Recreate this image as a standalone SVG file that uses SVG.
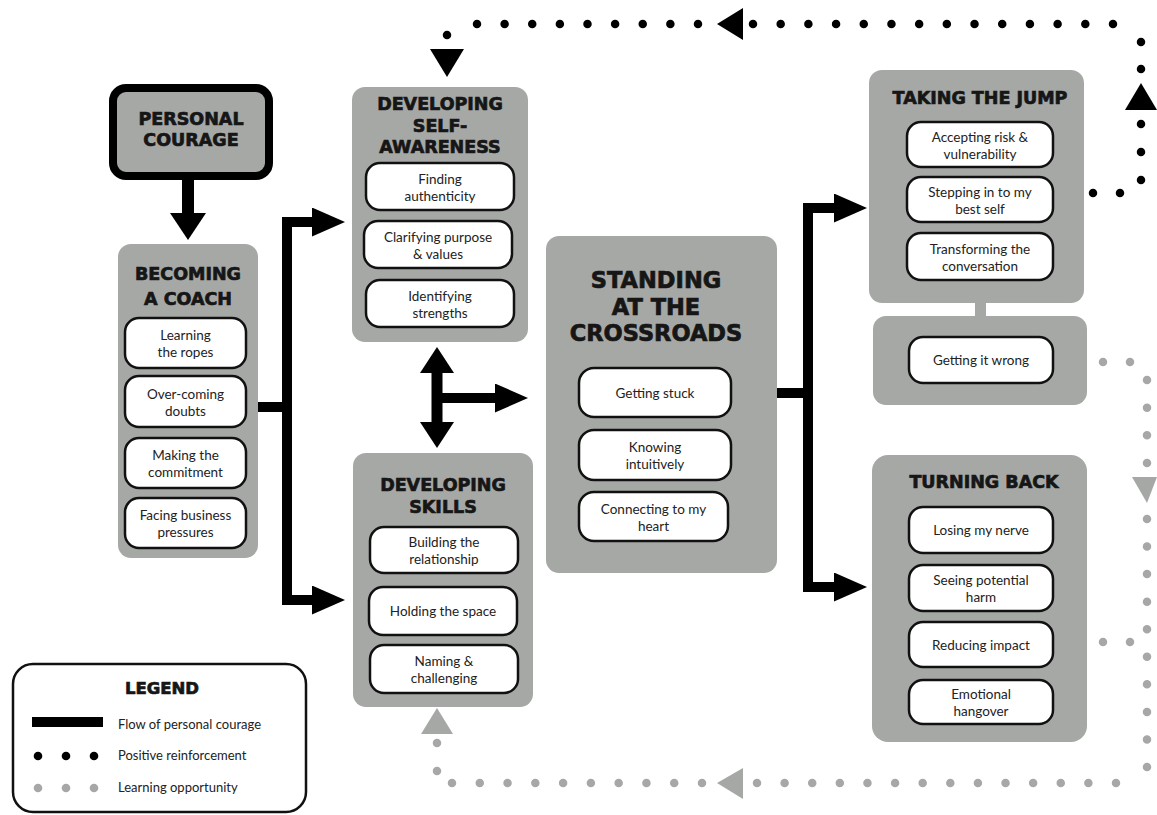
<svg xmlns="http://www.w3.org/2000/svg" width="1157" height="815" viewBox="0 0 1157 815">
<defs>
<style>
.box{fill:#a6a8a6}
.inner{fill:#fff;stroke:#111;stroke-width:2.5}
.title{font-family:"DejaVu Sans",sans-serif;font-weight:bold;text-anchor:middle;fill:#161616;stroke:#161616;stroke-width:0.7}
.lbl{font-family:Lato,"Open Sans",sans-serif;font-size:13.5px;text-anchor:middle;fill:#222}
.leg{font-family:Lato,"Open Sans",sans-serif;font-size:13px;fill:#222}
.flow{fill:none;stroke:#000;stroke-width:10;stroke-linejoin:miter}
.bdots{fill:none;stroke:#000;stroke-width:8.5;stroke-linecap:round}
.gdots{fill:none;stroke:#a6a8a6;stroke-width:8.5;stroke-linecap:round}
.bhead{fill:#000}
.ghead{fill:#a6a8a6}
</style>
<marker id="ah" markerUnits="userSpaceOnUse" markerWidth="34" markerHeight="30" refX="0" refY="14.5" orient="auto">
<path d="M0,0 L33,14.5 L0,29 Z" fill="#000"/>
</marker>
</defs>
<rect width="1157" height="815" fill="#fff"/>

<g id="connectors">
<!-- personal courage down -->
<rect x="182" y="178" width="12" height="36" fill="#000"/>
<polygon class="bhead" points="170,213 206,213 188,240"/>
<!-- becoming a coach branch -->
<path class="flow" d="M258,407 H287"/>
<path class="flow" d="M312,222 H287 V600 H312"/>
<path class="flow" d="M287,222 H312" marker-end="url(#ah)"/>
<path class="flow" d="M287,600 H312" marker-end="url(#ah)"/>
<!-- self-awareness / skills double arrow -->
<rect x="431.5" y="372" width="11" height="51" fill="#000"/>
<polygon class="bhead" points="420,373 454,373 437,347"/>
<polygon class="bhead" points="420,422 454,422 437,448"/>
<path class="flow" d="M437,398 H495" marker-end="url(#ah)"/>
<!-- crossroads branch -->
<path class="flow" d="M777,393 H808"/>
<path class="flow" d="M834,208 H808 V587 H834"/>
<path class="flow" d="M808,208 H834" marker-end="url(#ah)"/>
<path class="flow" d="M808,587 H834" marker-end="url(#ah)"/>
<!-- jump to getting wrong link -->
<rect x="975" y="300" width="11" height="18" fill="#a6a8a6"/>
<!-- positive reinforcement (black dots) -->
<path class="bdots" d="M1093,193 H1122" stroke-dasharray="0 27"/>
<path class="bdots" d="M1141,180 V122" stroke-dasharray="0 28"/>
<polygon class="bhead" points="1125,110 1157,110 1141,83"/>
<path class="bdots" d="M1141,69 V40" stroke-dasharray="0 27"/>
<path class="bdots" d="M1113,24 H751" stroke-dasharray="0 27.692"/>
<polygon class="bhead" points="743,8 743,40 717,24"/>
<path class="bdots" d="M698,24 H475" stroke-dasharray="0 27.625"/>
<circle cx="447" cy="35" r="4.25" fill="#000"/>
<polygon class="bhead" points="430,49 464,49 447,77"/>
<!-- learning opportunity (grey dots) -->
<path class="gdots" d="M1103,362 H1132" stroke-dasharray="0 27"/>
<path class="gdots" d="M1103,642 H1132" stroke-dasharray="0 27"/>
<path class="gdots" d="M1147,380 V465" stroke-dasharray="0 27.667"/>
<polygon class="ghead" points="1132,477 1157,477 1147,503"/>
<path class="gdots" d="M1147,519 V769" stroke-dasharray="0 27.556"/>
<path class="gdots" d="M1116,783 H755" stroke-dasharray="0 27.615"/>
<polygon class="ghead" points="743,768 743,799 717,783"/>
<path class="gdots" d="M702,783 H450" stroke-dasharray="0 27.778"/>
<path class="gdots" d="M437,771 V741" stroke-dasharray="0 28"/>
<polygon class="ghead" points="421,734 453,734 437,708"/>
</g>

<g id="personal-courage">
<rect x="113" y="88" width="156" height="88" rx="13" fill="#a6a8a6" stroke="#000" stroke-width="8"/>
<text class="title" x="191" y="125" font-size="17.5">PERSONAL</text>
<text class="title" x="191" y="146" font-size="17.5">COURAGE</text>
</g>

<g id="becoming-a-coach">
<rect class="box" x="118" y="244" width="140" height="314" rx="13"/>
<text class="title" x="188" y="279.5" font-size="17.5">BECOMING</text>
<text class="title" x="188" y="304.5" font-size="17.5">A COACH</text>
<rect class="inner" x="125" y="318" width="121" height="50" rx="14"/>
<text class="lbl" x="185.5" y="340">Learning</text>
<text class="lbl" x="185.5" y="357">the ropes</text>
<rect class="inner" x="125" y="376" width="121" height="51" rx="14"/>
<text class="lbl" x="185.5" y="398.5">Over-coming</text>
<text class="lbl" x="185.5" y="415.5">doubts</text>
<rect class="inner" x="125" y="438" width="121" height="50" rx="14"/>
<text class="lbl" x="185.5" y="460">Making the</text>
<text class="lbl" x="185.5" y="477">commitment</text>
<rect class="inner" x="125" y="498" width="121" height="50" rx="14"/>
<text class="lbl" x="185.5" y="520">Facing business</text>
<text class="lbl" x="185.5" y="537">pressures</text>
</g>

<g id="developing-self-awareness">
<rect class="box" x="352" y="87" width="176" height="255" rx="13"/>
<text class="title" x="440" y="110" font-size="17.5">DEVELOPING</text>
<text class="title" x="440" y="132" font-size="17.5">SELF-</text>
<text class="title" x="440" y="153" font-size="17.5">AWARENESS</text>
<rect class="inner" x="366" y="163" width="148" height="47" rx="14"/>
<text class="lbl" x="440" y="183.5">Finding</text>
<text class="lbl" x="440" y="200.5">authenticity</text>
<rect class="inner" x="364" y="221" width="148" height="47" rx="14"/>
<text class="lbl" x="438" y="241.5">Clarifying purpose</text>
<text class="lbl" x="438" y="258.5">&amp; values</text>
<rect class="inner" x="366" y="280" width="148" height="47" rx="14"/>
<text class="lbl" x="440" y="300.5">Identifying</text>
<text class="lbl" x="440" y="317.5">strengths</text>
</g>

<g id="developing-skills">
<rect class="box" x="353" y="453" width="180" height="254" rx="13"/>
<text class="title" x="443" y="491" font-size="17.5">DEVELOPING</text>
<text class="title" x="443" y="513" font-size="17.5">SKILLS</text>
<rect class="inner" x="370" y="527" width="148" height="46" rx="14"/>
<text class="lbl" x="444" y="547">Building the</text>
<text class="lbl" x="444" y="564">relationship</text>
<rect class="inner" x="369" y="587" width="148" height="48" rx="14"/>
<text class="lbl" x="443" y="616">Holding the space</text>
<rect class="inner" x="370" y="645" width="148" height="48" rx="14"/>
<text class="lbl" x="444" y="666">Naming &amp;</text>
<text class="lbl" x="444" y="683">challenging</text>
</g>

<g id="standing-at-the-crossroads">
<rect class="box" x="546" y="236" width="231" height="337" rx="13"/>
<text class="title" x="656" y="288" font-size="22.5">STANDING</text>
<text class="title" x="656" y="314.5" font-size="22.5">AT THE</text>
<text class="title" x="656" y="340.5" font-size="22.5">CROSSROADS</text>
<rect class="inner" x="579" y="368" width="152" height="49" rx="15"/>
<text class="lbl" x="655" y="397.5">Getting stuck</text>
<rect class="inner" x="579" y="430" width="152" height="50" rx="15"/>
<text class="lbl" x="655" y="452">Knowing</text>
<text class="lbl" x="655" y="469">intuitively</text>
<rect class="inner" x="579" y="492" width="149" height="49" rx="15"/>
<text class="lbl" x="653.5" y="513.5">Connecting to my</text>
<text class="lbl" x="653.5" y="530.5">heart</text>
</g>

<g id="taking-the-jump">
<rect class="box" x="869" y="70" width="215" height="233" rx="13"/>
<text class="title" x="980" y="104" font-size="17.5">TAKING THE JUMP</text>
<rect class="inner" x="907" y="122" width="146" height="45" rx="14"/>
<text class="lbl" x="980" y="141.5">Accepting risk &amp;</text>
<text class="lbl" x="980" y="158.5">vulnerability</text>
<rect class="inner" x="907" y="177" width="146" height="45" rx="14"/>
<text class="lbl" x="980" y="196.5">Stepping in to my</text>
<text class="lbl" x="980" y="213.5">best self</text>
<rect class="inner" x="907" y="233" width="146" height="47" rx="14"/>
<text class="lbl" x="980" y="253.5">Transforming the</text>
<text class="lbl" x="980" y="270.5">conversation</text>
</g>

<g id="getting-it-wrong">
<rect class="box" x="873" y="316" width="214" height="89" rx="13"/>
<rect class="inner" x="909" y="337" width="144" height="46" rx="14"/>
<text class="lbl" x="981" y="365">Getting it wrong</text>
</g>

<g id="turning-back">
<rect class="box" x="872" y="455" width="215" height="287" rx="16"/>
<text class="title" x="984" y="488" font-size="17.5">TURNING BACK</text>
<rect class="inner" x="909" y="507" width="144" height="46" rx="14"/>
<text class="lbl" x="981" y="535">Losing my nerve</text>
<rect class="inner" x="909" y="565" width="144" height="46" rx="14"/>
<text class="lbl" x="981" y="585">Seeing potential</text>
<text class="lbl" x="981" y="602">harm</text>
<rect class="inner" x="909" y="622" width="144" height="45" rx="14"/>
<text class="lbl" x="981" y="649.5">Reducing impact</text>
<rect class="inner" x="909" y="680" width="144" height="44" rx="14"/>
<text class="lbl" x="981" y="699">Emotional</text>
<text class="lbl" x="981" y="716">hangover</text>
</g>

<g id="legend">
<rect x="13" y="664" width="293" height="148" rx="20" fill="#fff" stroke="#111" stroke-width="2.5"/>
<text class="title" x="162" y="694" font-size="16.5">LEGEND</text>
<rect x="32" y="717" width="71" height="10" fill="#000"/>
<text class="leg" x="118" y="729">Flow of personal courage</text>
<circle cx="38" cy="756" r="4.3" fill="#000"/>
<circle cx="66" cy="756" r="4.3" fill="#000"/>
<circle cx="94" cy="756" r="4.3" fill="#000"/>
<text class="leg" x="118" y="760">Positive reinforcement</text>
<circle cx="38" cy="788" r="4.3" fill="#a6a8a6"/>
<circle cx="66" cy="788" r="4.3" fill="#a6a8a6"/>
<circle cx="94" cy="788" r="4.3" fill="#a6a8a6"/>
<text class="leg" x="118" y="792">Learning opportunity</text>
</g>
</svg>
